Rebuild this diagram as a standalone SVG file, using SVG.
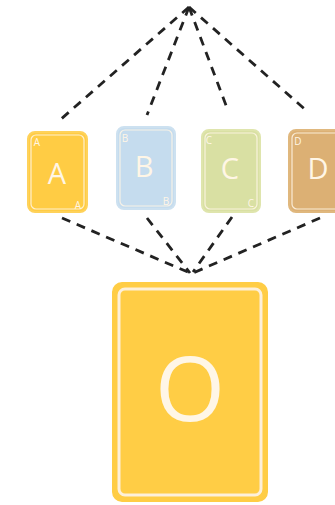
<svg xmlns="http://www.w3.org/2000/svg" width="335" height="505" viewBox="0 0 335 505">
<style>
.card{stroke-width:2}
.inner{fill:none;stroke:#fff6e6;stroke-width:1.2;opacity:0.85}
.big{font-family:"Open Sans","Liberation Sans",Arial,sans-serif;fill:#fff6e6;text-anchor:middle}
.small{font-family:"Open Sans","Liberation Sans",Arial,sans-serif;fill:#fff6e6;font-size:10px;text-anchor:middle}
.dash{stroke:#222;stroke-width:2.8;stroke-dasharray:9 7;fill:none}
</style>
<rect width="335" height="505" fill="#fff"/>
<g id="connectors">
<path class="dash" d="M189 7 L60 120"/>
<path class="dash" d="M189 7 L147 115"/>
<path class="dash" d="M189 7 L227 108"/>
<path class="dash" d="M189 7 L308 112"/>
<path class="dash" d="M62 218 L190 273"/>
<path class="dash" d="M147 218 L190 273"/>
<path class="dash" d="M232 217 L193 272"/>
<path class="dash" d="M320 218 L193 273"/>
</g>
<g id="nodeA">
<rect x="28" y="132" width="59" height="80" rx="7" fill="#ffcc44" stroke="#ffd25a" class="card"/>
<rect x="31" y="135" width="53" height="74" rx="5" class="inner"/>
<text x="57" y="184" class="big" font-size="29">A</text>
<text x="37" y="146" class="small">A</text>
<text x="78" y="209" class="small">A</text>
</g>
<g id="nodeB">
<rect x="117" y="127" width="58" height="82" rx="7" fill="#c5dcee" stroke="#cde1f0" class="card"/>
<rect x="120" y="130" width="52" height="76" rx="5" class="inner"/>
<text x="144" y="177" class="big" font-size="29">B</text>
<text x="125" y="142" class="small">B</text>
<text x="166" y="205" class="small">B</text>
</g>
<g id="nodeC">
<rect x="202" y="130" width="58" height="82" rx="7" fill="#d9e0a3" stroke="#dfe5ad" class="card"/>
<rect x="205" y="133" width="52" height="76" rx="5" class="inner"/>
<text x="230" y="179" class="big" font-size="29">C</text>
<text x="209" y="144" class="small">C</text>
<text x="251" y="207" class="small">C</text>
</g>
<g id="nodeD">
<rect x="289" y="130" width="58" height="82" rx="7" fill="#dcb074" stroke="#e0b87e" class="card"/>
<rect x="292" y="133" width="52" height="76" rx="5" class="inner"/>
<text x="318" y="179" class="big" font-size="29">D</text>
<text x="298" y="145" class="small">D</text>
</g>
<g id="nodeO">
<rect x="113" y="283" width="154" height="218" rx="9" fill="#ffcd45" stroke="#ffcd45" stroke-width="2"/>
<rect x="119" y="289" width="142" height="206" rx="6" fill="none" stroke="#fdf0da" stroke-width="3"/>
<text x="190" y="421" class="big" font-size="90">O</text>
</g>
</svg>
